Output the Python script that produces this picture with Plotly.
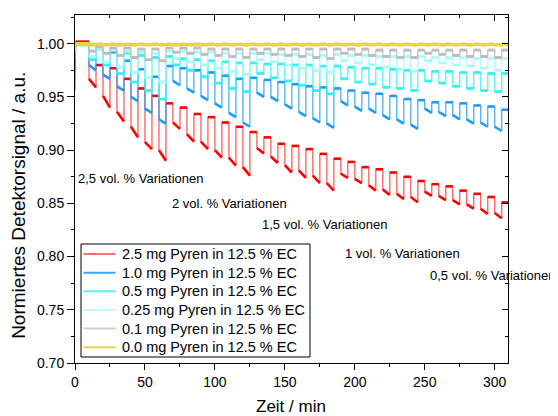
import plotly.graph_objects as go

# ---------------- data ----------------
drop_times = list(range(10, 301, 10))   # start of each concentration step / min
drop_len = 5                             # duration of each step / min
x_end = 310

series_names = [
    "2.5 mg Pyren in 12.5 % EC",
    "1.0 mg Pyren in 12.5 % EC",
    "0.5 mg Pyren in 12.5 % EC",
    "0.25 mg Pyren in 12.5 % EC",
    "0.1 mg Pyren in 12.5 % EC",
    "0.0 mg Pyren in 12.5 % EC",
]
start_vals = [0.957, 0.974, 0.986, 0.993, 0.996, 0.998]

# baseline level before the first step and after every step (31 values)
red_tops = [1.002, 0.980, 0.977, 0.967, 0.958, 0.951,
            0.944, 0.940, 0.934, 0.931, 0.926, 0.922,
            0.917, 0.912, 0.906, 0.904, 0.901, 0.8965,
            0.892, 0.889, 0.884, 0.882, 0.879, 0.875,
            0.871, 0.868, 0.866, 0.862, 0.859, 0.856, 0.851]
red_bot_start = [0.967, 0.951, 0.936, 0.922, 0.9075, 0.900,
                 0.926, 0.915, 0.908, 0.900, 0.893, 0.884,
                 0.902, 0.894, 0.886, 0.881, 0.876, 0.869,
                 0.878, 0.873, 0.867, 0.863, 0.859, 0.856,
                 0.861, 0.857, 0.853, 0.849, 0.845, 0.841]
red_bot_end = [0.959, 0.940, 0.927, 0.912, 0.901, 0.890,
               0.920, 0.908, 0.901, 0.893, 0.8855, 0.876,
               0.897, 0.888, 0.879, 0.874, 0.869, 0.862,
               0.874, 0.869, 0.862, 0.858, 0.854, 0.851,
               0.857, 0.853, 0.849, 0.845, 0.840, 0.836]

blue_tops = [1.000, 0.995, 0.992, 0.984, 0.976, 0.969,
             0.979, 0.977, 0.975, 0.973, 0.970, 0.967,
             0.968, 0.966, 0.964, 0.962, 0.960, 0.959,
             0.958, 0.956, 0.954, 0.953, 0.951, 0.948,
             0.947, 0.945, 0.945, 0.944, 0.942, 0.941, 0.938]
blue_bot_start = [0.980, 0.971, 0.960, 0.950, 0.939, 0.929,
                  0.965, 0.958, 0.951, 0.944, 0.935, 0.926,
                  0.954, 0.950, 0.943, 0.936, 0.930, 0.925,
                  0.946, 0.941, 0.939, 0.933, 0.929, 0.924,
                  0.939, 0.936, 0.933, 0.929, 0.926, 0.922]
blue_bot_end = [0.975, 0.967, 0.956, 0.946, 0.935, 0.925,
                0.961, 0.954, 0.947, 0.940, 0.931, 0.922,
                0.950, 0.946, 0.939, 0.932, 0.926, 0.921,
                0.942, 0.937, 0.935, 0.929, 0.925, 0.920,
                0.935, 0.932, 0.929, 0.925, 0.922, 0.918]

cyan_tops = [1.000, 0.996, 0.994, 0.991, 0.989, 0.987,
             0.988, 0.986, 0.985, 0.984, 0.983, 0.982,
             0.982, 0.981, 0.981, 0.980, 0.980, 0.979,
             0.979, 0.978, 0.977, 0.977, 0.976, 0.975,
             0.975, 0.974, 0.974, 0.973, 0.973, 0.972, 0.972]
cyan_bot = [0.985, 0.980, 0.972, 0.964, 0.956, 0.948,
            0.980, 0.975, 0.969, 0.963, 0.958, 0.955,
            0.972, 0.968, 0.965, 0.961, 0.956, 0.953,
            0.967, 0.964, 0.962, 0.959, 0.958, 0.956,
            0.965, 0.963, 0.960, 0.958, 0.956, 0.955]

pale_tops = [1.000, 0.995, 0.994, 0.993, 0.992, 0.991,
             0.993, 0.993, 0.992, 0.992, 0.991, 0.991,
             0.991, 0.991, 0.990, 0.990, 0.990, 0.989,
             0.990, 0.989, 0.989, 0.988, 0.988, 0.988,
             0.988, 0.987, 0.987, 0.987, 0.986, 0.986, 0.986]
pale_bot = [0.988, 0.983, 0.978, 0.973, 0.968, 0.964,
            0.986, 0.983, 0.980, 0.977, 0.974, 0.971,
            0.985, 0.983, 0.980, 0.977, 0.975, 0.973,
            0.984, 0.982, 0.980, 0.978, 0.976, 0.974,
            0.984, 0.982, 0.980, 0.979, 0.977, 0.975]

gray_tops = [0.999, 0.997, 0.996, 0.996, 0.995, 0.995,
             0.996, 0.996, 0.996, 0.995, 0.995, 0.995,
             0.995, 0.995, 0.995, 0.995, 0.995, 0.995,
             0.995, 0.995, 0.995, 0.994, 0.994, 0.994,
             0.994, 0.994, 0.994, 0.994, 0.994, 0.994, 0.994]
gray_bot = [0.993, 0.991, 0.989, 0.987, 0.985, 0.984,
            0.992, 0.991, 0.990, 0.989, 0.988, 0.987,
            0.991, 0.990, 0.989, 0.988, 0.987, 0.986,
            0.991, 0.990, 0.989, 0.988, 0.987, 0.987,
            0.991, 0.990, 0.989, 0.988, 0.988, 0.987]

yellow_tops = [1.000] * 1 + [0.9995] * 30
yellow_bot = [0.999] * 30

colors = ["#FF0000", "#1E9BFF", "#33F2F2", "#A6FBFB", "#BDBDBD", "#E6D83A"]
colors_thin = ["rgba(255,40,40,0.7)", "rgba(30,155,255,0.75)", "rgba(51,242,242,0.8)",
               "rgba(166,251,251,0.85)", "rgba(189,189,189,0.8)", "rgba(230,216,58,0.8)"]
legend_colors = ["#FF7070", "#3AA6F5", "#5CF0F0", "#C4FAFA", "#CFCFCF", "#E3D64A"]
thick_w = [2.6, 2.6, 2.8, 2.8, 3.0, 3.6]

series = [
    (red_tops, red_bot_start, red_bot_end),
    (blue_tops, blue_bot_start, blue_bot_end),
    (cyan_tops, cyan_bot, cyan_bot),
    (pale_tops, pale_bot, pale_bot),
    (gray_tops, gray_bot, gray_bot),
    (yellow_tops, yellow_bot, yellow_bot),
]

ann_texts = ["2,5 vol. % Variationen", "2 vol. % Variationen", "1,5 vol. % Variationen",
             "1 vol. % Variationen", "0,5 vol. % Variationen"]
ann_x = [1.0, 68, 132, 191.5, 252]
ann_y = [0.873, 0.8495, 0.8297, 0.8025, 0.7818]


def build_path(tops, b_start, b_end, v0):
    xs = [0, 0.4, drop_times[0]]
    ys = [v0, tops[0], tops[0]]
    for k, t in enumerate(drop_times):
        t_next = drop_times[k + 1] if k + 1 < len(drop_times) else x_end
        xs += [t, t + drop_len, t + drop_len, t_next]
        ys += [b_start[k], b_end[k], tops[k + 1], tops[k + 1]]
    return xs, ys


def build_flat(tops, b_start, b_end):
    xs = [0.4, drop_times[0], None]
    ys = [tops[0], tops[0], None]
    for k, t in enumerate(drop_times):
        t_next = drop_times[k + 1] if k + 1 < len(drop_times) else x_end
        xs += [t, t + drop_len, None, t + drop_len, t_next, None]
        ys += [b_start[k], b_end[k], None, tops[k + 1], tops[k + 1], None]
    return xs, ys


FONT = "Arial, Liberation Sans, sans-serif"
fig = go.Figure()

for i, (tops, bs, be) in enumerate(series):
    xs, ys = build_path(tops, bs, be, start_vals[i])
    fig.add_trace(go.Scatter(x=xs, y=ys, mode="lines", name=series_names[i],
                             line=dict(color=colors_thin[i], width=1.4),
                             showlegend=False))
    fx, fy = build_flat(tops, bs, be)
    fig.add_trace(go.Scatter(x=fx, y=fy, mode="lines", name=series_names[i],
                             line=dict(color=colors[i], width=thick_w[i]),
                             showlegend=False, hoverinfo="skip"))

# invisible trace for mirrored (inside) ticks on top / right
fig.add_trace(go.Scatter(x=[0], y=[0.7], xaxis="x2", yaxis="y2", mode="markers",
                         marker=dict(opacity=0), showlegend=False, hoverinfo="skip"))

xr = [0, 309.5]
yr = [0.70, 1.027]

# page body adds an 8 px offset: the figure is sized/placed to compensate
fig.update_layout(
    width=550, height=408,
    margin=dict(l=67, r=50, t=7, b=53),
    paper_bgcolor="white", plot_bgcolor="white",
    font=dict(family=FONT, size=14, color="black"),
    showlegend=False,
    xaxis=dict(range=xr, showgrid=False, zeroline=False, showline=True,
               linecolor="black", linewidth=1, ticks="outside", ticklen=6,
               tickcolor="black", dtick=50, tick0=0,
               minor=dict(ticks="outside", ticklen=3, dtick=25, tickcolor="black"),
               tickfont=dict(size=14)),
    yaxis=dict(range=yr, showgrid=False, zeroline=False, showline=True,
               linecolor="black", linewidth=1, ticks="outside", ticklen=7,
               tickcolor="black", dtick=0.05, tick0=0.7, tickformat=".2f",
               minor=dict(ticks="outside", ticklen=3, dtick=0.025, tickcolor="black"),
               tickfont=dict(size=14)),
    xaxis2=dict(range=xr, overlaying="x", side="top", showgrid=False, zeroline=False,
                showline=True, linecolor="black", linewidth=1, ticks="inside",
                ticklen=6, tickcolor="black", dtick=50, tick0=0, showticklabels=False,
                minor=dict(ticks="inside", ticklen=3, dtick=25, tickcolor="black")),
    yaxis2=dict(range=yr, overlaying="y", side="right", showgrid=False, zeroline=False,
                showline=True, linecolor="black", linewidth=1, ticks="inside",
                ticklen=6, tickcolor="black", dtick=0.05, tick0=0.7, showticklabels=False,
                minor=dict(ticks="inside", ticklen=3, dtick=0.025, tickcolor="black")),
)

for txt, ax, ay in zip(ann_texts, ann_x, ann_y):
    fig.add_annotation(x=ax, y=ay, xref="x", yref="y", text=txt, showarrow=False,
                       xanchor="left", yanchor="middle",
                       font=dict(family=FONT, size=13, color="black"))

# ---- custom legend box (paper coords relative to plot area) ----
PL, PW, PB, PH = 75.0, 433.0, 363.0, 348.0   # plot area in page pixels


def px(x):
    return (x - PL) / PW


def py(y):
    return (PB - y) / PH


fig.add_shape(type="rect", xref="paper", yref="paper",
              x0=px(81), x1=px(310), y0=py(357), y1=py(244),
              line=dict(color="black", width=1), fillcolor="white", layer="above")
row_y0, row_dy = 254.0, 18.65
for i, name in enumerate(series_names):
    yy = row_y0 + i * row_dy
    fig.add_shape(type="line", xref="paper", yref="paper",
                  x0=px(83.5), x1=px(115.5), y0=py(yy), y1=py(yy),
                  line=dict(color=legend_colors[i], width=2), layer="above")
    fig.add_annotation(x=px(119.5), y=py(yy), xref="paper", yref="paper", text=name,
                       showarrow=False, xanchor="left", yanchor="middle",
                       font=dict(family=FONT, size=14.5, color="black"))

fig.add_annotation(x=-0.132, y=0.454, xref="paper", yref="paper",
                   text="Normiertes Detektorsignal / a.u.", textangle=-90,
                   showarrow=False, xanchor="center", yanchor="middle",
                   font=dict(family=FONT, size=19, color="black"))
fig.add_annotation(x=0.498, y=-0.124, xref="paper", yref="paper",
                   text="Zeit / min", showarrow=False, xanchor="center", yanchor="middle",
                   font=dict(family=FONT, size=17, color="black"))

fig.write_html("out.html")
